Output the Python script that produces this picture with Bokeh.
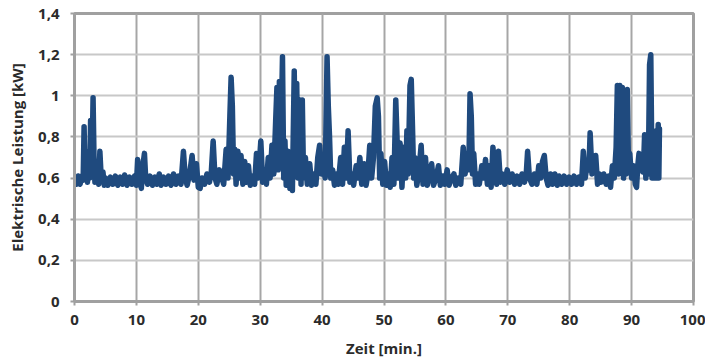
from bokeh.plotting import figure
from bokeh.models import Range1d, CustomJSTickFormatter, FixedTicker
from bokeh.embed import file_html
from bokeh.resources import INLINE

# Zeit [min.]
t = [0, 0.3, 0.6, 0.9, 1.2, 1.4, 1.55, 1.7, 1.9, 2.1, 2.3, 2.45, 2.6, 2.8, 3.0, 3.15, 3.3, 3.5, 3.7, 3.9,
     4.1, 4.25, 4.4, 4.6, 4.8, 5.0, 5.4, 5.8, 6.2, 6.6, 7.0, 7.4, 7.8, 8.1, 8.5, 8.9, 9.3, 9.7,
     10.0, 10.2, 10.5, 10.8, 11.0, 11.3, 11.5, 11.8, 12.2, 12.6, 13.0, 13.3, 13.7, 14.0, 14.4, 14.8,
     15.2, 15.6, 16.0, 16.4, 16.8, 17.2, 17.6, 17.9, 18.2, 18.6, 19.0, 19.3, 19.7, 20.0, 20.3, 20.6,
     21.0, 21.4, 21.8, 22.1, 22.4, 22.7, 23.0, 23.4, 23.8, 24.1, 24.5, 24.8, 25.1, 25.3, 25.5, 25.7,
     25.9, 26.1, 26.4, 26.6, 26.9, 27.2, 27.5, 27.8, 28.1, 28.4, 28.8, 29.1, 29.4, 29.7, 30.1, 30.4,
     30.7, 31.0, 31.3, 31.6, 31.9, 32.2, 32.5, 32.7, 32.9, 33.1, 33.3, 33.6, 33.8, 34.0, 34.2, 34.5,
     34.8, 35.0, 35.2, 35.5, 35.7, 35.9, 36.1, 36.4, 36.6, 36.8, 37.0, 37.3, 37.6, 38.0, 38.3, 38.7,
     39.0, 39.3, 39.6, 39.9, 40.2, 40.5, 40.8, 41.0, 41.2, 41.4, 41.7, 42.0, 42.3, 42.6, 43.0, 43.3,
     43.6, 43.9, 44.2, 44.5, 44.8, 45.1, 45.5, 45.8, 46.1, 46.4, 46.8, 47.1, 47.4, 47.7, 48.0, 48.3,
     48.6, 48.9, 49.1, 49.3, 49.5, 49.8, 50.1, 50.4, 50.7, 51.0, 51.3, 51.6, 51.9, 52.1, 52.3, 52.6,
     52.9, 53.2, 53.5, 53.7, 53.9, 54.2, 54.4, 54.6, 54.8, 55.0, 55.3, 55.6, 56.0, 56.3, 56.7, 57.0,
     57.3, 57.7, 58.0, 58.4, 58.8, 59.1, 59.5, 59.8, 60.2, 60.5, 60.9, 61.3, 61.6, 62.0, 62.4, 62.8,
     63.1, 63.4, 63.7, 63.9, 64.1, 64.3, 64.5, 64.8, 65.1, 65.4, 65.8, 66.1, 66.4, 66.7, 67.0, 67.3,
     67.6, 67.9, 68.2, 68.5, 68.8, 69.1, 69.5, 69.9, 70.3, 70.7, 71.1, 71.5, 71.9, 72.3, 72.7, 73.0,
     73.2, 73.5, 73.9, 74.3, 74.7, 75.0, 75.3, 75.6, 75.9, 76.2, 76.5, 76.9, 77.2, 77.6, 78.0, 78.3,
     78.7, 79.1, 79.5, 79.9, 80.3, 80.7, 81.1, 81.5, 81.9, 82.2, 82.5, 82.8, 83.1, 83.3, 83.6, 83.9,
     84.2, 84.5, 84.8, 85.1, 85.5, 85.9, 86.3, 86.6, 86.9, 87.2, 87.5, 87.7, 87.9, 88.1, 88.3, 88.5,
     88.7, 88.9, 89.1, 89.3, 89.5, 89.7, 90.0, 90.3, 90.6, 90.8, 91.0, 91.2, 91.4, 91.6, 91.8, 92.0,
     92.1, 92.3, 92.5, 92.7, 92.9, 93.1, 93.3, 93.5, 93.6, 93.7, 93.9, 94.0, 94.1, 94.3, 94.4, 94.5]

# Elektrische Leistung [kW]
kw = [0.60, 0.57, 0.61, 0.57, 0.61, 0.59, 0.85, 0.60, 0.66, 0.58, 0.73, 0.60, 0.88, 0.62, 0.99, 0.70, 0.58, 0.67, 0.60, 0.57,
      0.73, 0.64, 0.60, 0.63, 0.565, 0.60, 0.565, 0.605, 0.57, 0.61, 0.565, 0.605, 0.57, 0.615, 0.565, 0.605, 0.57, 0.61,
      0.565, 0.69, 0.60, 0.55, 0.65, 0.72, 0.60, 0.57, 0.61, 0.565, 0.605, 0.57, 0.62, 0.565, 0.605, 0.57,
      0.61, 0.565, 0.62, 0.57, 0.61, 0.57, 0.73, 0.60, 0.565, 0.62, 0.71, 0.59, 0.67, 0.555, 0.55, 0.60,
      0.57, 0.62, 0.58, 0.63, 0.78, 0.60, 0.57, 0.64, 0.60, 0.57, 0.74, 0.60, 0.90, 1.09, 0.95, 0.62,
      0.74, 0.57, 0.73, 0.60, 0.71, 0.57, 0.68, 0.58, 0.66, 0.565, 0.61, 0.57, 0.72, 0.60, 0.78, 0.58,
      0.64, 0.57, 0.70, 0.60, 0.76, 0.62, 0.88, 1.04, 0.64, 1.07, 0.70, 1.19, 0.60, 0.78, 0.565, 0.73,
      0.55, 0.70, 0.54, 1.12, 0.62, 1.06, 0.60, 0.98, 0.57, 0.98, 0.60, 0.70, 0.57, 0.67, 0.565, 0.62,
      0.57, 0.70, 0.76, 0.62, 0.67, 0.60, 1.19, 0.95, 0.80, 0.60, 0.64, 0.565, 0.62, 0.57, 0.70, 0.57,
      0.75, 0.60, 0.83, 0.58, 0.62, 0.565, 0.66, 0.60, 0.70, 0.57, 0.67, 0.565, 0.62, 0.76, 0.60, 0.70,
      0.95, 0.99, 0.90, 0.60, 0.72, 0.57, 0.68, 0.565, 0.62, 0.555, 0.70, 0.57, 0.98, 0.80, 0.60, 0.77,
      0.555, 0.75, 0.60, 0.83, 0.62, 1.05, 1.08, 0.85, 0.60, 0.70, 0.565, 0.62, 0.76, 0.57, 0.70, 0.565,
      0.61, 0.67, 0.565, 0.60, 0.66, 0.565, 0.61, 0.57, 0.64, 0.565, 0.60, 0.62, 0.565, 0.60, 0.57, 0.75,
      0.62, 0.72, 0.64, 1.01, 0.90, 0.62, 0.72, 0.57, 0.62, 0.57, 0.66, 0.60, 0.69, 0.57, 0.66, 0.555,
      0.75, 0.62, 0.57, 0.73, 0.58, 0.62, 0.57, 0.64, 0.58, 0.62, 0.57, 0.61, 0.57, 0.62, 0.58, 0.63,
      0.73, 0.60, 0.57, 0.62, 0.57, 0.66, 0.60, 0.68, 0.71, 0.60, 0.565, 0.62, 0.57, 0.62, 0.565, 0.61,
      0.57, 0.61, 0.57, 0.605, 0.57, 0.61, 0.57, 0.605, 0.57, 0.73, 0.60, 0.66, 0.64, 0.82, 0.62, 0.66,
      0.71, 0.57, 0.62, 0.58, 0.62, 0.57, 0.61, 0.555, 0.66, 0.60, 0.75, 1.05, 0.62, 1.05, 0.65, 1.04,
      0.60, 0.90, 0.62, 1.03, 0.65, 0.72, 0.60, 0.66, 0.57, 0.555, 0.66, 0.72, 0.64, 0.68, 0.63, 0.72,
      0.81, 0.60, 0.80, 0.62, 1.15, 1.20, 0.60, 0.78, 0.60, 0.82, 0.60, 0.83, 0.60, 0.86, 0.60, 0.84]

y_ticks = [0, 0.2, 0.4, 0.6, 0.8, 1.0, 1.2, 1.4]
x_ticks = [0, 10, 20, 30, 40, 50, 60, 70, 80, 90, 100]

FONT = "Open Sans"

p = figure(width=705, height=360, output_backend="svg", toolbar_location=None,
           x_range=Range1d(0, 100), y_range=Range1d(0, 1.4),
           min_border_left=74, min_border_right=12, min_border_top=13, min_border_bottom=59)

p.line(t, kw, line_color="#1f4a7e", line_width=5.5, line_join="round", line_cap="round")

p.xaxis.ticker = FixedTicker(ticks=x_ticks)
p.yaxis.ticker = FixedTicker(ticks=y_ticks)
p.yaxis.formatter = CustomJSTickFormatter(code="return tick.toFixed(1).replace('.', ',').replace(',0', '');")
p.xaxis.formatter = CustomJSTickFormatter(code="return tick.toFixed(0);")

for ax in (p.xaxis, p.yaxis):
    ax.axis_line_color = "#a0a0a0"
    ax.axis_line_width = 3
    ax.major_tick_line_color = "#a0a0a0"
    ax.major_tick_line_width = 2
    ax.major_tick_out = 4
    ax.major_tick_in = 0
    ax.minor_tick_line_color = None
    ax.major_label_text_font = FONT
    ax.major_label_text_font_style = "bold"
    ax.major_label_text_font_size = "15px"
    ax.major_label_text_color = "#2b2b2b"
    ax.axis_label_text_font = FONT
    ax.axis_label_text_font_style = "bold"
    ax.axis_label_text_color = "#2b2b2b"
    ax.axis_label_text_font_size = "15px"

p.xaxis.axis_label = "Zeit [min.]"
p.yaxis.axis_label = "Elektrische Leistung [kW]"
p.xaxis.major_label_standoff = 9
p.yaxis.major_label_standoff = 11
p.xaxis.axis_label_standoff = 10
p.yaxis.axis_label_standoff = 8

p.xgrid.grid_line_color = "#a6a6a6"
p.xgrid.grid_line_width = 2
p.ygrid.grid_line_color = "#c8c8c8"
p.ygrid.grid_line_width = 2

p.outline_line_color = "#a0a0a0"
p.outline_line_width = 3
p.outline_line_alpha = 1.0
p.background_fill_color = "white"
p.border_fill_color = "white"

open("out.html", "w").write(file_html(p, INLINE))
